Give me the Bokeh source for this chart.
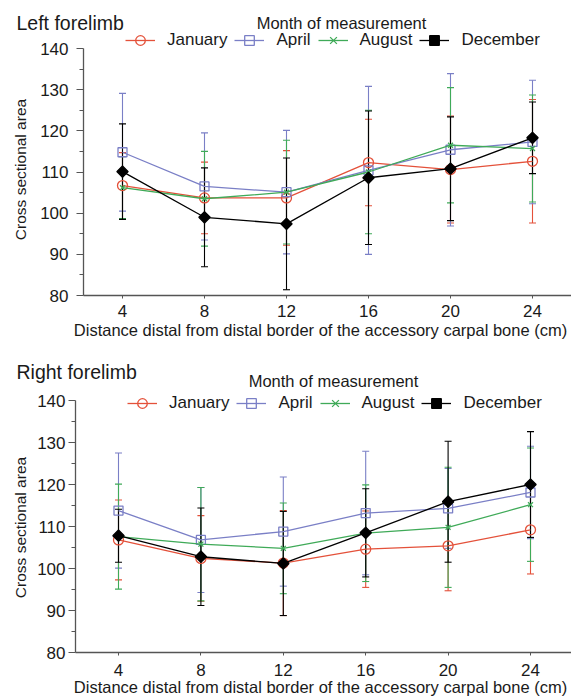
import math
from bokeh.plotting import figure
from bokeh.models import (ColumnDataSource, Whisker, TeeHead, Label, Legend, LegendItem,
                          FixedTicker, Range1d)
from bokeh.layouts import column
from bokeh.embed import file_html
from bokeh.resources import INLINE

# ---------------- data ----------------
distance = [4, 8, 12, 16, 20, 24]
months = ["January", "April", "August", "December"]
x_ticks = [4, 8, 12, 16, 20, 24]
y_ticks = [80, 90, 100, 110, 120, 130, 140]
y_minor = [85, 95, 105, 115, 125, 135]

# Left forelimb: means and standard deviations
left_jan_mean = [106.7, 103.7, 103.7, 112.3, 110.6, 112.6]
left_jan_sd = [8.0, 8.7, 11.5, 10.5, 13.0, 15.0]
left_apr_mean = [114.8, 106.5, 105.1, 110.4, 115.4, 117.3]
left_apr_sd = [14.3, 13.0, 15.0, 20.4, 18.5, 15.0]
left_aug_mean = [106.2, 103.5, 105.1, 110.0, 116.5, 115.7]
left_aug_sd = [7.5, 11.5, 12.6, 15.0, 14.0, 13.0]
left_dec_mean = [110.1, 99.0, 97.4, 108.6, 110.8, 118.3]
left_dec_sd = [11.6, 12.0, 16.0, 16.2, 12.6, 8.7]

# Right forelimb: means and standard deviations
right_jan_mean = [106.8, 102.4, 101.3, 104.6, 105.4, 109.2]
right_jan_sd = [9.5, 10.2, 12.5, 9.1, 10.7, 10.5]
right_apr_mean = [113.8, 106.8, 108.8, 113.2, 114.3, 118.1]
right_apr_sd = [13.7, 12.5, 13.0, 14.7, 9.5, 11.0]
right_aug_mean = [107.6, 105.8, 104.8, 108.4, 109.8, 115.2]
right_aug_sd = [12.5, 13.5, 10.8, 11.5, 14.3, 13.5]
right_dec_mean = [107.8, 102.8, 101.2, 108.5, 115.9, 120.0]
right_dec_sd = [6.3, 11.6, 12.4, 10.5, 14.4, 12.6]

# ---------------- styles ----------------
FONT = "Liberation Sans"
TXT = "#1a1a1a"
AXIS = "#555555"
STYLE = {
    "January": dict(color="#e4513a", marker="circle", size=10, fill_alpha=0.0, angle=0.0),
    "April": dict(color="#7a7fc6", marker="square", size=9, fill_alpha=0.0, angle=0.0),
    "August": dict(color="#3faa58", marker="x", size=7, fill_alpha=0.0, angle=0.0),
    "December": dict(color="#000000", marker="square", size=8, fill_alpha=1.0, angle=math.pi / 4),
}


def add_text(p, H, x, center_px, text, size, align="left", angle=0.0):
    p.add_layout(Label(x=x, y=H - center_px, x_units="screen", y_units="screen", text=text,
                       text_align=align, text_baseline="middle", angle=angle,
                       text_font=FONT, text_font_size=size, text_color=TXT))


def build(title_text, series, cfg):
    H = cfg["height"]
    p = figure(width=571, height=H, output_backend="svg", toolbar_location=None,
               x_range=Range1d(*cfg["xr"]), y_range=Range1d(*cfg["yr"]),
               min_border_left=0, min_border_right=0, min_border_top=0, min_border_bottom=0)
    p.outline_line_color = None
    p.grid.visible = False

    xa = p.xaxis[0]
    xa.fixed_location = y_ticks[0]
    xa.bounds = (cfg["yaxis_at"], cfg["xr"][1])
    xa.ticker = FixedTicker(ticks=x_ticks)
    xa.minor_tick_line_color = None
    xa.major_tick_out = 3
    xa.major_tick_in = 0
    xa.axis_line_color = AXIS
    xa.axis_line_width = 1.3
    xa.major_tick_line_color = AXIS
    xa.major_label_standoff = cfg["xlab_standoff"]
    xa.major_label_text_font = FONT
    xa.major_label_text_font_size = "17px"
    xa.major_label_text_color = TXT

    ya = p.yaxis[0]
    ya.fixed_location = cfg["yaxis_at"]
    ya.ticker = FixedTicker(ticks=y_ticks, minor_ticks=y_minor)
    ya.bounds = (y_ticks[0], y_ticks[-1])
    ya.major_tick_out = 7
    ya.major_tick_in = 0
    ya.minor_tick_out = 4
    ya.minor_tick_in = 0
    ya.axis_line_color = AXIS
    ya.axis_line_width = 1.3
    ya.major_tick_line_color = AXIS
    ya.minor_tick_line_color = AXIS
    ya.major_label_standoff = cfg["ylab_standoff"]
    ya.major_label_text_font = FONT
    ya.major_label_text_font_size = "17px"
    ya.major_label_text_color = TXT

    items = []
    for name, (mean, sd) in zip(months, series):
        st = STYLE[name]
        src = ColumnDataSource(dict(
            x=distance, y=mean,
            upper=[m + s for m, s in zip(mean, sd)],
            lower=[m - s for m, s in zip(mean, sd)],
        ))
        wh = Whisker(source=src, base="x", upper="upper", lower="lower",
                     line_color=st["color"], line_width=1.1,
                     upper_head=TeeHead(size=7, line_color=st["color"], line_width=1.1),
                     lower_head=TeeHead(size=7, line_color=st["color"], line_width=1.1))
        p.add_layout(wh)
        ln = p.line("x", "y", source=src, line_color=st["color"], line_width=1.3)
        sc = p.scatter("x", "y", source=src, marker=st["marker"], size=st["size"],
                       angle=st["angle"], line_color=st["color"], line_width=1.3,
                       fill_color=st["color"], fill_alpha=st["fill_alpha"])
        items.append(LegendItem(label=name, renderers=[ln, sc]))

    leg = Legend(items=items, orientation="horizontal",
                 location=(cfg["legend_x"], H - cfg["legend_center"] - 12),
                 glyph_width=30, glyph_height=24, label_height=20, label_standoff=12,
                 spacing=7, padding=0, margin=0,
                 label_text_font=FONT, label_text_font_size="17px", label_text_color=TXT,
                 border_line_alpha=0, background_fill_alpha=0)
    p.add_layout(leg)

    add_text(p, H, cfg["title_x"], cfg["title_c"], title_text, "19.5px")
    add_text(p, H, cfg["ltitle_x"], cfg["ltitle_c"], "Month of measurement", "16.5px",
             align="center")
    add_text(p, H, 20, cfg["ylabel_c"], "Cross sectional area", "15.5px",
             align="center", angle=math.pi / 2)
    add_text(p, H, cfg["xlabel_x"], cfg["xlabel_c"],
             "Distance distal from distal border of the accessory carpal bone (cm)", "16.5px",
             align="center")
    return p


# top panel (figure rows 0..344): 140 at y=48, 80 at y=295; x=4 at 122 px, 20.5 px per cm
top_cfg = dict(height=344,
               xr=(4 - 122 / 20.5, 4 + (571 - 122) / 20.5),
               yr=(80 - 49 / (247 / 60), 140 + 48 / (247 / 60)),
               yaxis_at=4 - 39 / 20.5, ylab_standoff=8, xlab_standoff=6,
               legend_x=125, legend_center=40,
               title_x=16, title_c=22.8, ltitle_x=341, ltitle_c=22.4,
               ylabel_c=169, xlabel_x=320, xlabel_c=329)
# bottom panel (figure rows 344..696): 140 at y=56, 80 at y=308; x=4 at 118 px, 20.6 px per cm
bot_cfg = dict(height=352,
               xr=(4 - 118 / 20.6, 4 + (571 - 118) / 20.6),
               yr=(80 - 44 / (252 / 60), 140 + 56 / (252 / 60)),
               yaxis_at=4 - 43 / 20.6, ylab_standoff=3, xlab_standoff=8,
               legend_x=127, legend_center=59.3,
               title_x=16, title_c=27.3, ltitle_x=333, ltitle_c=36.8,
               ylabel_c=183, xlabel_x=320, xlabel_c=342)

top = build("Left forelimb",
            [(left_jan_mean, left_jan_sd), (left_apr_mean, left_apr_sd),
             (left_aug_mean, left_aug_sd), (left_dec_mean, left_dec_sd)], top_cfg)
bot = build("Right forelimb",
            [(right_jan_mean, right_jan_sd), (right_apr_mean, right_apr_sd),
             (right_aug_mean, right_aug_sd), (right_dec_mean, right_dec_sd)], bot_cfg)

layout = column(top, bot, spacing=0)
open("out.html", "w").write(file_html(layout, INLINE))
